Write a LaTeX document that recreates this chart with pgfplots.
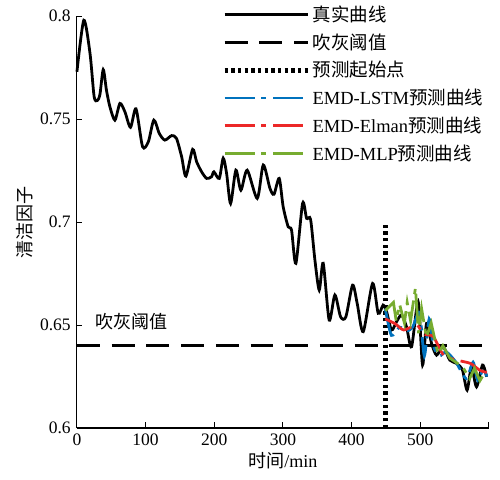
\documentclass[border=0pt]{standalone}
\usepackage{pgfplots}
\pgfplotsset{compat=1.18}
\usepackage{fontspec}
\setmainfont{Liberation Serif}
\newfontfamily\cjk{Noto Sans CJK SC}
\definecolor{cblue}{RGB}{0,114,189}
\definecolor{cred}{RGB}{236,40,40}
\definecolor{cgreen}{RGB}{119,172,48}
\begin{document}
\begin{tikzpicture}
\useasboundingbox (-55.4pt,-37.4pt) rectangle (304.6pt,308.2pt);
\begin{axis}[
  at={(0,0)}, anchor=south west,
  scale only axis, width=296.6pt, height=296.6pt,
  xmin=0, xmax=600, ymin=0.6, ymax=0.8,
  axis lines*=left,
  axis line style={line width=0.8pt},
  tick align=inside,
  major tick length=4pt,
  tick style={line width=0.8pt, black},
  xtick={0,100,200,300,400,500,600},
  xticklabels={0,100,200,300,400,500,{}},
  ytick={0.6,0.65,0.7,0.75,0.8},
  yticklabels={0.6,0.65,0.7,0.75,0.8},
  /pgf/number format/assume math mode=true,
  tick label style={font=\fontsize{12.6}{14}\selectfont},
  xticklabel style={yshift=-1pt},
  yticklabel style={xshift=-1pt},
  xlabel={{\cjk 时间}/min},
  ylabel={\cjk 清洁因子},
  label style={font=\fontsize{13}{15}\selectfont},
  xlabel style={yshift=2pt},
  ylabel style={yshift=-2pt},
  clip=false,
  legend style={draw=none, fill=none, at={(axis description cs:0.352,1.031)}, anchor=north west,
    font=\fontsize{13.3}{15}\selectfont, row sep=4.3pt, inner sep=0pt,
    nodes={inner sep=1.5pt}},
  legend cell align=left,
  legend image code/.code={\draw[#1] (0pt,0pt) -- (60pt,0pt);},
]
\addplot[black, line width=2pt, smooth, tension=0.45] coordinates {
(0,0.773) (10,0.798) (19,0.782) (25,0.761) (29.6,0.759) (33.5,0.762) (38.3,0.774)
(43,0.764) (48,0.756) (55.3,0.7495) (62.6,0.7576) (69.9,0.7535) (78,0.746) (86,0.755)
(95.6,0.7366) (104,0.739) (112,0.7495) (120,0.743) (128,0.7398) (138,0.742) (145,0.7406)
(152.5,0.7317) (158.7,0.7223) (168.5,0.7353) (174.3,0.7293) (181.6,0.7244) (188.9,0.7212)
(196,0.722) (199.5,0.7244) (207.3,0.7212) (213,0.731) (218,0.7236) (223.8,0.709)
(231.5,0.7252) (238.8,0.7155) (248,0.7252) (262.6,0.7115) (271.4,0.7277) (281,0.7165)
(287,0.7135) (294.6,0.7212) (300.4,0.7074) (307.7,0.6977) (312.6,0.6961) (318.9,0.68)
(328.7,0.7091) (334.5,0.7018) (340.3,0.7013) (346.6,0.6816) (352.9,0.667) (358.7,0.68)
(367.4,0.6524) (375.7,0.6646) (384,0.654) (391.7,0.654) (401.5,0.6694) (408.2,0.6605)
(417,0.6468) (430.6,0.6702) (438.8,0.6557) (446,0.6597) (451,0.6565) (458.2,0.6476)
(465.5,0.6516) (472.8,0.6549) (480,0.6492) (487.4,0.6395) (497,0.6613) (503.4,0.6306)
(509.2,0.6508) (516.5,0.6411) (523.8,0.6354) (533.4,0.6395) (543,0.633) (552.8,0.6314)
(561.5,0.6282) (568.3,0.6184) (574.7,0.6298) (582,0.62) (590.8,0.6306) (596.6,0.6249)
};
\addlegendentry{\cjk 真实曲线}
\addplot[black, line width=1.8pt, dash pattern=on 16.5pt off 8.5pt] coordinates {(0,0.64) (600,0.64)};
\addlegendentry{\cjk 吹灰阈值}
\addplot[black, line width=3.6pt, dash pattern=on 2.4pt off 2.4pt] coordinates {(450,0.6) (450,0.7)};
\addlegendentry{\cjk 预测起始点}
\addplot[cblue, line width=2pt, dash pattern=on 21.6pt off 4.8pt on 3.6pt off 4.8pt, smooth, tension=0.4] coordinates {
(449,0.658) (458,0.645) (470,0.649) (480,0.647) (489,0.649) (499,0.656) (506,0.635) (513,0.653)
(519,0.640) (528,0.635) (538,0.637) (552,0.632) (567,0.624) (577,0.632) (584,0.623) (592,0.629) (597,0.625)
};
\addlegendentry{EMD-LSTM{\cjk 预测曲线}}
\addplot[cred, line width=2pt, dash pattern=on 21.6pt off 4.8pt on 3.6pt off 4.8pt, smooth, tension=0.4] coordinates {
(449,0.653) (463.7,0.6506) (476,0.6476) (495,0.650) (505,0.6456) (519,0.6444) (534,0.6354)
(553,0.633) (573,0.6314) (587,0.628) (597,0.627)
};
\addlegendentry{EMD-Elman{\cjk 预测曲线}}
\addplot[cgreen, line width=2pt, dash pattern=on 21.6pt off 4.8pt on 3.6pt off 4.8pt] coordinates {
(449,0.657) (461,0.661) (465,0.652) (470,0.660) (477,0.651) (481,0.661) (486,0.652) (493,0.668)
(497.6,0.646) (502,0.658) (509,0.644) (516,0.651) (526,0.636) (533,0.640) (543,0.634) (556,0.631)
(563,0.629) (572,0.624) (579,0.629) (587,0.623) (594,0.627)
};
\addlegendentry{EMD-MLP{\cjk 预测曲线}}
\node[anchor=west, font=\fontsize{13}{15}\selectfont\cjk] at (axis cs:20,0.6516) {吹灰阈值};
\end{axis}
\end{tikzpicture}
\end{document}
